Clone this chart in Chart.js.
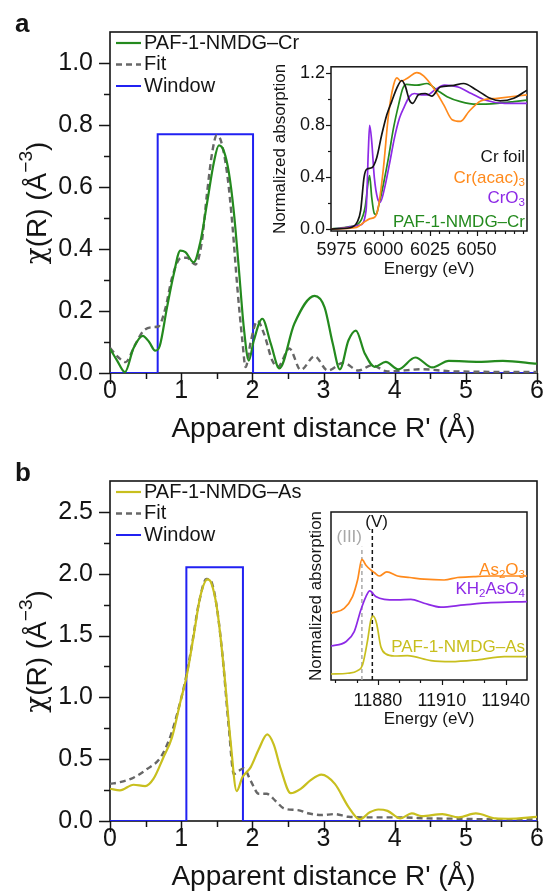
<!DOCTYPE html>
<html><head><meta charset="utf-8">
<script src="https://cdn.jsdelivr.net/npm/chart.js@4.4.1/dist/chart.umd.min.js"></script>
<style>
html,body{margin:0;padding:0;background:#fff;}
#wrap{position:relative;width:544px;height:894px;background:#fff;overflow:hidden;}
canvas{position:absolute;}
</style></head><body>
<div id="wrap">
<canvas id="cA" width="544" height="449" style="left:0px;top:0px"></canvas>
<canvas id="cAi" width="285" height="230" style="left:255px;top:50px"></canvas>
<canvas id="cB" width="544" height="445" style="left:0px;top:449px"></canvas>
<canvas id="cBi" width="255" height="235" style="left:285px;top:495px"></canvas>
</div>
<script>
// ---------- Panel a: Cr EXAFS (R space) ----------
const crR   = [0, 0.1, 0.21, 0.33, 0.46, 0.55, 0.635, 0.70, 0.80, 0.894, 0.988, 1.06, 1.176, 1.27, 1.365, 1.46, 1.53, 1.60, 1.67, 1.74, 1.81, 1.88, 1.95, 2.02, 2.14, 2.26, 2.38, 2.59, 2.875, 3.015, 3.13, 3.23, 3.35, 3.455, 3.58, 3.72, 3.875, 4.05, 4.29, 4.53, 4.76, 5.19, 5.52, 6.0];
const crChi = [0.078, 0.04, 0.003, 0.08, 0.12, 0.10, 0.072, 0.088, 0.21, 0.317, 0.395, 0.39, 0.357, 0.423, 0.55, 0.68, 0.734, 0.716, 0.647, 0.52, 0.338, 0.147, 0.04, 0.104, 0.175, 0.094, 0.015, 0.159, 0.249, 0.212, 0.095, 0.012, 0.105, 0.137, 0.063, 0.02, 0.036, 0.012, 0.05, 0.018, 0.039, 0.036, 0.039, 0.03];
const crFitR   = [0, 0.12, 0.22, 0.35, 0.47, 0.61, 0.68, 0.78, 0.87, 0.99, 1.08, 1.2, 1.29, 1.365, 1.435, 1.5, 1.56, 1.65, 1.72, 1.79, 1.86, 1.905, 1.98, 2.07, 2.165, 2.28, 2.36, 2.52, 2.68, 2.875, 3.06, 3.28, 3.49, 3.68, 3.9, 4.39, 4.76, 5.2, 6.0];
const crFitChi = [0.081, 0.05, 0.035, 0.09, 0.136, 0.148, 0.15, 0.21, 0.306, 0.37, 0.372, 0.35, 0.423, 0.583, 0.71, 0.767, 0.748, 0.636, 0.477, 0.274, 0.104, 0.019, 0.104, 0.168, 0.126, 0.04, 0.02, 0.079, 0.01, 0.054, 0.008, 0.033, 0.008, 0.025, 0.005, 0.012, 0.006, 0.004, 0.003];
const crWinR   = [0, 0.67, 0.67, 2.01, 2.01, 6];
const crWinChi = [0, 0, 0.77, 0.77, 0, 0];
const rTicks = [0, 1, 2, 3, 4, 5, 6];
const rLabels = ['0', '1', '2', '3', '4', '5', '6'];
const rMinor = [0.5, 1.5, 2.5, 3.5, 4.5, 5.5];
const chiTicksA = [0, 0.2, 0.4, 0.6, 0.8, 1.0];
const chiLabelsA = ['0.0', '0.2', '0.4', '0.6', '0.8', '1.0'];
const chiMinorA = [0.1, 0.3, 0.5, 0.7, 0.9];

// ---------- Inset a: Cr K-edge XANES ----------
const foilE  = [5972, 5982.2, 5986.1, 5987.9, 5989.7, 5991.2, 5993.8, 5996.5, 5999.2, 6001.9, 6004.5, 6007.2, 6009.9, 6011.7, 6014, 6015.8, 6018.8, 6022.4, 6026, 6030.5, 6036.7, 6043, 6050.1, 6057.3, 6062.7, 6069.9, 6077];
const foilMu = [0, 0.01, 0.056, 0.144, 0.397, 0.46, 0.47, 0.548, 0.725, 0.877, 0.978, 1.08, 1.14, 1.10, 0.99, 0.965, 1.03, 1.04, 1.02, 1.09, 1.10, 1.117, 1.066, 1.003, 0.983, 1.003, 1.066];
const acacE  = [5972, 5985.7, 5989.3, 5992.9, 5995.6, 5997.4, 6000.1, 6002.8, 6005.5, 6007.3, 6009.4, 6012.7, 6018, 6021.6, 6027, 6032.4, 6036.9, 6041.4, 6045.9, 6052.2, 6061.1, 6077];
const acacMu = [0, 0.013, 0.048, 0.08, 0.094, 0.17, 0.47, 0.877, 1.104, 1.16, 1.135, 1.155, 1.2, 1.175, 1.08, 0.953, 0.839, 0.826, 0.902, 0.983, 1.003, 1.03];
const cro3E  = [5972, 5987.5, 5990.8, 5992, 5992.7, 5993.8, 5995.2, 5997, 5998.4, 6000.6, 6003.3, 6006, 6008.7, 6011.3, 6014, 6016.7, 6020.3, 6023.9, 6027.5, 6032.8, 6040, 6047.2, 6054.4, 6065, 6077];
const cro3Mu = [0, 0.03, 0.144, 0.6, 0.796, 0.675, 0.397, 0.232, 0.207, 0.308, 0.498, 0.70, 0.852, 0.94, 1.016, 1.04, 1.03, 1.03, 1.066, 1.104, 1.09, 1.04, 0.99, 0.965, 0.965];
const pafCrE  = [5972, 5982, 5987.6, 5990.3, 5992, 5992.7, 5993.8, 5995.2, 5996.2, 5997.4, 6000.1, 6002.8, 6005.5, 6008.2, 6010.5, 6012.5, 6018, 6023.4, 6028.8, 6034.2, 6041.4, 6050, 6061, 6070, 6077];
const pafCrMu = [0, 0.018, 0.056, 0.17, 0.37, 0.41, 0.245, 0.119, 0.111, 0.17, 0.346, 0.548, 0.776, 0.953, 1.08, 1.11, 1.104, 1.117, 1.066, 1.016, 0.978, 0.958, 0.965, 0.978, 0.99];
const eTicksA = [5975, 6000, 6025, 6050];
const eLabelsA = ['5975', '6000', '6025', '6050'];
const eMinorA = [5980, 5985, 5990, 5995, 6005, 6010, 6015, 6020, 6030, 6035, 6040, 6045, 6055, 6060, 6065, 6070, 6075];
const muTicksA = [0, 0.4, 0.8, 1.2];
const muLabelsA = ['0.0', '0.4', '0.8', '1.2'];
const muMinorA = [0.2, 0.6, 1.0];

// ---------- Panel b: As EXAFS (R space) ----------
const asR   = [0, 0.14, 0.33, 0.494, 0.61, 0.75, 0.87, 0.99, 1.08, 1.176, 1.27, 1.37, 1.42, 1.506, 1.6, 1.694, 1.78, 1.86, 1.976, 2.09, 2.21, 2.3, 2.4, 2.54, 2.68, 2.82, 2.97, 3.16, 3.35, 3.51, 3.65, 3.77, 3.9, 4.08, 4.24, 4.38, 4.67, 4.9, 5.14, 5.42, 5.6, 6.0];
const asChi = [0.261, 0.248, 0.293, 0.282, 0.34, 0.514, 0.674, 0.966, 1.18, 1.5, 1.82, 1.955, 1.93, 1.71, 1.23, 0.647, 0.242, 0.354, 0.434, 0.58, 0.70, 0.62, 0.42, 0.225, 0.26, 0.33, 0.375, 0.30, 0.115, 0.013, 0.07, 0.093, 0.082, 0.021, 0.061, 0.04, 0.056, 0.03, 0.061, 0.021, 0.018, 0.034];
const asFitR   = [0, 0.14, 0.33, 0.52, 0.71, 0.85, 0.965, 1.06, 1.15, 1.25, 1.355, 1.40, 1.48, 1.576, 1.67, 1.74, 1.81, 1.88, 1.976, 2.09, 2.2, 2.33, 2.45, 2.64, 2.78, 2.97, 3.16, 3.35, 3.73, 4.1, 4.48, 4.95, 5.42, 6.0];
const asFitChi = [0.30, 0.314, 0.35, 0.42, 0.514, 0.687, 0.913, 1.14, 1.42, 1.765, 1.957, 1.955, 1.805, 1.366, 0.753, 0.38, 0.407, 0.426, 0.327, 0.22, 0.22, 0.16, 0.10, 0.088, 0.063, 0.048, 0.056, 0.034, 0.029, 0.029, 0.021, 0.018, 0.013, 0.013];
const asWinR   = [0, 1.073, 1.073, 1.868, 1.868, 6];
const asWinChi = [0, 0, 2.053, 2.053, 0, 0];
const chiTicksB = [0, 0.5, 1.0, 1.5, 2.0, 2.5];
const chiLabelsB = ['0.0', '0.5', '1.0', '1.5', '2.0', '2.5'];
const chiMinorB = [0.25, 0.75, 1.25, 1.75, 2.25];

// ---------- Inset b: As K-edge XANES (stacked, offset) ----------
const as2o3E  = [11858, 11864.2, 11868.1, 11870.5, 11872.5, 11874.4, 11876.5, 11878.3, 11880.6, 11884.2, 11889.2, 11895, 11901.7, 11911.1, 11917.4, 11925, 11933, 11950];
const as2o3Mu = [1.19, 1.28, 1.49, 1.79, 2.155, 2.05, 1.97, 1.92, 1.857, 1.93, 1.857, 1.83, 1.80, 1.786, 1.83, 1.845, 1.857, 1.857];
const kh2E  = [11858, 11865, 11868.9, 11872, 11874.4, 11876.2, 11879, 11883, 11889.2, 11895.5, 11901.7, 11909.6, 11920.5, 11933, 11950];
const kh2Mu = [0.607, 0.684, 0.863, 1.25, 1.49, 1.59, 1.49, 1.44, 1.43, 1.44, 1.37, 1.30, 1.34, 1.38, 1.40];
const pafAsE  = [11858, 11865.8, 11870.5, 11872.8, 11875.2, 11876.7, 11877.8, 11879.4, 11881.4, 11883.8, 11887.7, 11893.9, 11904.9, 11914.3, 11926.8, 11939.3, 11950];
const pafAsMu = [0.107, 0.12, 0.167, 0.268, 0.714, 1.07, 1.14, 1.01, 0.595, 0.464, 0.429, 0.435, 0.345, 0.327, 0.36, 0.417, 0.417];
const edge3E = [11872.5, 11872.5], edge3Mu = [0, 2.38];
const edge5E = [11877.4, 11877.4], edge5Mu = [0, 2.71];
const eTicksB = [11880, 11910, 11940];
const eLabelsB = ['11880', '11910', '11940'];
const eMinorB = [11860, 11870, 11890, 11900, 11920, 11930];

// ---------- helpers ----------
const FONT = '"Liberation Sans", Arial, Helvetica, sans-serif';
const SERIF = '"DejaVu Serif", "Liberation Serif", serif';
const C = { green: '#248a1e', fit: '#676767', blue: '#2121f2', yellow: '#c8bf1e', orange: '#ff8a1c', purple: '#8d2ae6', black: '#141414', gray: '#a8a8a8' };
const xy = (xs, ys) => xs.map((x, i) => ({ x: x, y: ys[i] }));

// rich text: _x subscript, ^{..} superscript, ~{..} serif glyph
function parseRich(s) {
  const out = []; let i = 0, buf = '';
  while (i < s.length) {
    const c = s[i];
    if (c === '_' || c === '^' || c === '~') {
      if (buf) { out.push({ t: buf, k: 0 }); buf = ''; }
      let j = i + 1, t;
      if (s[j] === '{') { const e = s.indexOf('}', j); t = s.slice(j + 1, e); i = e + 1; }
      else { t = s[j]; i = j + 1; }
      out.push({ t: t, k: c === '_' ? 1 : (c === '^' ? -1 : 2) });
    } else { buf += c; i++; }
  }
  if (buf) out.push({ t: buf, k: 0 });
  return out;
}
function drawRich(ctx, t) {
  const size = t.size, w = t.weight || 'normal';
  const parts = parseRich(t.text);
  const f = k => k === 2 ? `${w} ${size * 1.0}px ${SERIF}` : `${w} ${(k === 1 || k === -1) ? size * 0.68 : size}px ${FONT}`;
  let total = 0;
  parts.forEach(p => { ctx.font = f(p.k); p.w = ctx.measureText(p.t).width; total += p.w; });
  ctx.save();
  ctx.translate(t.x, t.y);
  if (t.rot) ctx.rotate(t.rot);
  let x = t.align === 'right' ? -total : (t.align === 'center' ? -total / 2 : 0);
  ctx.fillStyle = t.color || C.black;
  ctx.textBaseline = t.baseline || 'middle';
  ctx.textAlign = 'left';
  parts.forEach(p => {
    ctx.font = f(p.k);
    const dy = p.k === 1 ? size * 0.3 : (p.k === -1 ? -size * 0.4 : 0);
    ctx.fillText(p.t, x, dy);
    x += p.w;
  });
  ctx.restore();
}

const deco = {
  id: 'deco',
  beforeDatasetsDraw(chart, args, o) {
    const { ctx, chartArea: c } = chart;
    ctx.save();
    ctx.strokeStyle = C.black; ctx.lineWidth = o.frameWidth || 1.5;
    ctx.strokeRect(c.left, c.top, c.right - c.left, c.bottom - c.top);
    ctx.restore();
  },
  afterDraw(chart, args, o) {
    const { ctx, chartArea: c, scales } = chart;
    ctx.save();
    ctx.strokeStyle = C.black; ctx.lineWidth = o.tickWidth || 1.5;
    const tk = (axis, vals, len) => (vals || []).forEach(v => {
      ctx.beginPath();
      if (axis === 'x') { const p = Math.round(scales.x.getPixelForValue(v)) + 0.5; ctx.moveTo(p, c.bottom); ctx.lineTo(p, c.bottom + len); }
      else { const p = Math.round(scales.y.getPixelForValue(v)) + 0.5; ctx.moveTo(c.left, p); ctx.lineTo(c.left - len, p); }
      ctx.stroke();
    });
    tk('x', o.xMajor, o.majorLen); tk('x', o.xMinor, o.minorLen);
    tk('y', o.yMajor, o.majorLen); tk('y', o.yMinor, o.minorLen);
    ctx.restore();
    const L = o.legend;
    if (L) {
      chart.data.datasets.forEach((d, i) => {
        const y = L.y + i * L.dy;
        ctx.save();
        ctx.strokeStyle = d.borderColor; ctx.lineWidth = d.borderWidth;
        ctx.setLineDash(d.borderDash || []);
        ctx.beginPath(); ctx.moveTo(L.x, y); ctx.lineTo(L.x + L.len, y); ctx.stroke();
        ctx.restore();
        drawRich(ctx, { text: d.label, x: L.x + L.len + L.gap, y: y, size: L.size, align: 'left' });
      });
    }
    (o.tags || []).forEach(t => {
      const d = chart.data.datasets[t.ds];
      drawRich(ctx, { text: d.label, x: t.x, y: t.y, size: t.size, color: d.borderColor, align: t.align || 'right' });
    });
    (o.texts || []).forEach(t => drawRich(ctx, t));
  }
};
Chart.register(deco);

function line(label, xs, ys, color, extra) {
  return Object.assign({ label: label, data: xy(xs, ys), borderColor: color, backgroundColor: color, borderWidth: 2, showLine: true, pointRadius: 0, fill: false, cubicInterpolationMode: 'monotone' }, extra || {});
}

function mainChart(id, sets, yMax, yTicks, yLabels, yMinor, H, top, bottom, titlePad, letter) {
  return new Chart(document.getElementById(id), {
    type: 'scatter',
    data: { datasets: sets },
    options: {
      responsive: false, animation: false, devicePixelRatio: 1, events: [],
      layout: { padding: { top: top, right: 7, left: 0, bottom: 0 } },
      plugins: {
        legend: { display: false }, tooltip: { enabled: false },
        deco: {
          frameWidth: 1.6, tickWidth: 1.5, majorLen: 11, minorLen: 6,
          xMajor: rTicks, xMinor: rMinor, yMajor: yTicks, yMinor: yMinor,
          legend: { x: 116, y: 43, dy: 21.5, len: 25, gap: 3, size: 20 },
          texts: [
            { text: letter, x: 15, y: top + 3, size: 26, weight: 'bold', align: 'left', baseline: 'alphabetic' },
            { text: '~{χ}(R) (Å^{−3})', x: 38, y: (top + (H - bottom)) / 2 + 2, size: 28, rot: -Math.PI / 2, align: 'center' }
          ]
        }
      },
      scales: {
        x: {
          type: 'linear', min: 0, max: 6,
          afterBuildTicks: s => { s.ticks = rTicks.map(v => ({ value: v })); },
          afterFit: s => { s.height = bottom; s.paddingLeft = 0; s.paddingRight = 0; },
          grid: { display: false, drawTicks: false }, border: { display: false },
          ticks: { color: C.black, font: { family: FONT, size: 25 }, padding: 3, maxRotation: 0, autoSkip: false, callback: (v, i) => rLabels[i] },
          title: { display: true, text: "Apparent distance R' (Å)", color: C.black, font: { family: FONT, size: 28, lineHeight: 1.2 }, padding: { top: 0, bottom: titlePad } }
        },
        y: {
          type: 'linear', min: 0, max: yMax,
          afterBuildTicks: s => { s.ticks = yTicks.map(v => ({ value: v })); },
          afterFit: s => { s.width = 110; },
          grid: { display: false, drawTicks: false }, border: { display: false },
          ticks: { color: C.black, font: { family: FONT, size: 25 }, padding: 17, autoSkip: false, callback: (v, i) => yLabels[i] }
        }
      }
    }
  });
}

function insetChart(id, sets, xr, yr, xT, xL, xMin, yT, yL, yMin, geo, tags, texts) {
  return new Chart(document.getElementById(id), {
    type: 'scatter',
    data: { datasets: sets },
    options: {
      responsive: false, animation: false, devicePixelRatio: 1, events: [],
      layout: { padding: { top: geo.top, right: geo.right, left: 0, bottom: 0 } },
      plugins: {
        legend: { display: false }, tooltip: { enabled: false },
        deco: { frameWidth: 1.5, tickWidth: 1.2, majorLen: 5, minorLen: 3, xMajor: xT, xMinor: xMin, yMajor: yT, yMinor: yMin, tags: tags, texts: texts || [] }
      },
      scales: {
        x: {
          type: 'linear', min: xr[0], max: xr[1],
          afterBuildTicks: s => { s.ticks = xT.map(v => ({ value: v })); },
          afterFit: s => { s.height = geo.xH; s.paddingLeft = 0; s.paddingRight = 0; },
          grid: { display: false, drawTicks: false }, border: { display: false },
          ticks: { color: C.black, font: { family: FONT, size: 18 }, padding: geo.xPad, maxRotation: 0, autoSkip: false, callback: (v, i) => xL[i] },
          title: { display: true, text: 'Energy (eV)', color: C.black, font: { family: FONT, size: 17, lineHeight: 1.2 }, padding: { top: 0, bottom: geo.xTitlePad } }
        },
        y: {
          type: 'linear', min: yr[0], max: yr[1],
          afterBuildTicks: s => { s.ticks = (yL ? yT : []).map(v => ({ value: v })); },
          afterFit: s => { s.width = geo.yW; },
          grid: { display: false, drawTicks: false }, border: { display: false },
          ticks: { display: !!yL, color: C.black, font: { family: FONT, size: 18 }, padding: 6, autoSkip: false, callback: (v, i) => yL ? yL[i] : '' },
          title: { display: true, text: 'Normalized absorption', color: C.black, font: { family: FONT, size: 17, lineHeight: 1.2 }, padding: { top: geo.yTitlePad, bottom: 0 } }
        }
      }
    }
  });
}

// Panel a
mainChart('cA', [
  line('PAF-1-NMDG–Cr', crR, crChi, C.green, { borderWidth: 2.2 }),
  line('Fit', crFitR, crFitChi, C.fit, { borderWidth: 2.4, borderDash: [6, 4] }),
  line('Window', crWinR, crWinChi, C.blue, { borderWidth: 2, cubicInterpolationMode: 'default', tension: 0 })
], 1.1, chiTicksA, chiLabelsA, chiMinorA, 449, 29, 76, 3.2, 'a');

insetChart('cAi', [
  line('Cr foil', foilE, foilMu, C.black, { borderWidth: 1.7 }),
  line('Cr(acac)_3', acacE, acacMu, C.orange, { borderWidth: 1.7 }),
  line('CrO_3', cro3E, cro3Mu, C.purple, { borderWidth: 1.7 }),
  line('PAF-1-NMDG–Cr', pafCrE, pafCrMu, C.green, { borderWidth: 1.7 })
], [5972, 6077], [-0.015, 1.245], eTicksA, eLabelsA, eMinorA, muTicksA, muLabelsA, muMinorA,
  { top: 15, right: 13, xH: 49, yW: 76, xPad: 8, xTitlePad: 0, yTitlePad: 15 },
  [{ ds: 0, x: 270, y: 107, size: 17 }, { ds: 1, x: 270, y: 128, size: 17 }, { ds: 2, x: 270, y: 148, size: 17 }, { ds: 3, x: 270, y: 172, size: 17 }]);

// Panel b
mainChart('cB', [
  line('PAF-1-NMDG–As', asR, asChi, C.yellow, { borderWidth: 2.2 }),
  line('Fit', asFitR, asFitChi, C.fit, { borderWidth: 2.4, borderDash: [6, 4] }),
  line('Window', asWinR, asWinChi, C.blue, { borderWidth: 2, cubicInterpolationMode: 'default', tension: 0 })
], 2.75, chiTicksB, chiLabelsB, chiMinorB, 445, 29, 73, 0, 'b');

insetChart('cBi', [
  line('As_2O_3', as2o3E, as2o3Mu, C.orange, { borderWidth: 1.7 }),
  line('KH_2AsO_4', kh2E, kh2Mu, C.purple, { borderWidth: 1.7 }),
  line('PAF-1-NMDG–As', pafAsE, pafAsMu, C.yellow, { borderWidth: 1.7 }),
  line('(III)', edge3E, edge3Mu, C.gray, { borderWidth: 1.5, borderDash: [4, 3], cubicInterpolationMode: 'default', tension: 0 }),
  line('(V)', edge5E, edge5Mu, C.black, { borderWidth: 1.5, borderDash: [4, 3], cubicInterpolationMode: 'default', tension: 0 })
], [11858, 11950], [0, 3], eTicksB, eLabelsB, eMinorB, [], null, [],
  { top: 17, right: 13, xH: 50, yW: 46, xPad: 10, xTitlePad: 0.8, yTitlePad: 21 },
  [{ ds: 0, x: 240, y: 75, size: 17 }, { ds: 1, x: 240, y: 94, size: 17 }, { ds: 2, x: 240, y: 152, size: 17 },
   { ds: 3, x: 77, y: 42, size: 17 }, { ds: 4, x: 103, y: 27, size: 17 }]);
</script>
</body></html>
